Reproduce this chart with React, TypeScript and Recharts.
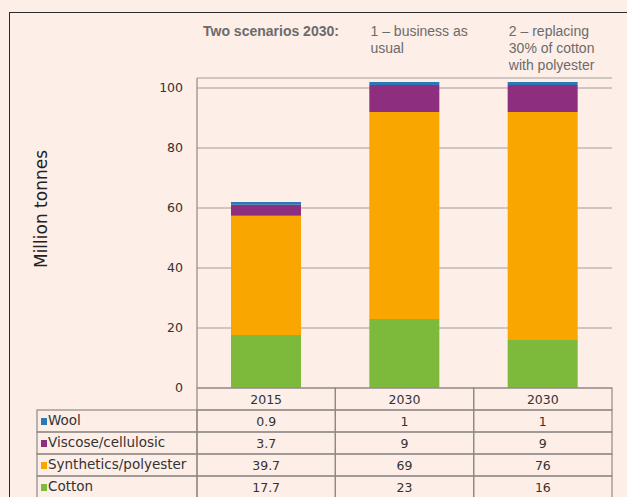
import { BarChart, Bar, XAxis, YAxis, CartesianGrid } from 'recharts'

const CATEGORIES = ['2015', '2030', '2030']
const SCENARIO_LINES = [
  ['Two scenarios 2030:'],
  ['1 – business as', 'usual'],
  ['2 – replacing', '30% of cotton', 'with polyester'],
]
const WOOL = [0.9, 1, 1]
const VISCOSE = [3.7, 9, 9]
const SYNTHETICS = [39.7, 69, 76]
const COTTON = [17.7, 23, 16]
const Y_TICKS = [0, 20, 40, 60, 80, 100]

// table order, top to bottom
const SERIES = [
  { key: 'wool', name: 'Wool', values: WOOL, color: '#2a79b6' },
  { key: 'viscose', name: 'Viscose/cellulosic', values: VISCOSE, color: '#8d2e7e' },
  { key: 'synthetics', name: 'Synthetics/polyester', values: SYNTHETICS, color: '#f9a600' },
  { key: 'cotton', name: 'Cotton', values: COTTON, color: '#7db93a' },
]

const data = CATEGORIES.map((name, i) => {
  const row: any = { name }
  SERIES.forEach(s => { row[s.key] = s.values[i] })
  return row
})

const W = 627
const H = 497
const LEFT = 197
const RIGHT = 15
const TOP = 78
const ROW_H = 22
const BOTTOM = ROW_H * 5 - 1
const BAND = (W - LEFT - RIGHT) / CATEGORIES.length
const BAR = 70
const LABEL_COL = 160
const LINE = '#8f8a88'
const GEO = '"DejaVu Sans", sans-serif'
const TEXT = '#333'

function TableColumn(props: any) {
  const { x, y, index } = props
  const left = x - BAND / 2
  return (
    <g>
      <rect x={left} y={y} width={BAND} height={ROW_H} fill="none" stroke={LINE} strokeWidth={1.2} />
      <text x={x} y={y + ROW_H / 2} textAnchor="middle" dominantBaseline="central" fontSize={12.5} fill={TEXT} fontFamily={GEO}>
        {CATEGORIES[index]}
      </text>
      {SERIES.map((s, r) => {
        const ry = y + ROW_H * (r + 1)
        return (
          <g key={s.key}>
            <rect x={left} y={ry} width={BAND} height={ROW_H} fill="none" stroke={LINE} strokeWidth={1.2} />
            <text x={x} y={ry + ROW_H / 2} textAnchor="middle" dominantBaseline="central" fontSize={12.5} fill={TEXT} fontFamily={GEO}>
              {String(s.values[index])}
            </text>
            {index === 0 && (
              <g>
                <rect x={left - LABEL_COL} y={ry} width={LABEL_COL} height={ROW_H} fill="none" stroke={LINE} strokeWidth={1.2} />
                <rect x={left - LABEL_COL + 4} y={ry + 8} width={6} height={7} fill={s.color} />
                <text x={left - LABEL_COL + 11} y={ry + ROW_H / 2 - 1} dominantBaseline="central" fontSize={13.5} fill={TEXT} fontFamily={GEO}>
                  {s.name}
                </text>
              </g>
            )}
          </g>
        )
      })}
    </g>
  )
}

function ScenarioTick(props: any) {
  const { x, y, index } = props
  const lines = SCENARIO_LINES[index]
  const tx = index === 0 ? x - BAND / 2 + 6 : x - BAR / 2 + 1
  return (
    <text x={tx} y={y} fontSize={14} fill="#6b6b6b" fontWeight={index === 0 ? 'bold' : 'normal'} fontFamily='"Liberation Sans", Arial, sans-serif'>
      {lines.map((l, k) => (
        <tspan key={k} x={tx} y={y - 42 + 17 * k}>{l}</tspan>
      ))}
    </text>
  )
}

function AxisTitle() {
  return (
    <text x={41} y={209} transform="rotate(-90 41 209)" textAnchor="middle" dominantBaseline="central" fontSize={17} fill="#222" fontFamily={GEO}>
      Million tonnes
    </text>
  )
}

export default function App() {
  return (
    <div style={{ position: 'absolute', left: 0, top: 0, width: W, height: H, background: '#fdeee7', overflow: 'hidden' }}>
      <div style={{ position: 'absolute', left: 9, top: 12, right: 0, bottom: 0, borderTop: '1.5px solid #2a2a2a', borderLeft: '1.5px solid #2a2a2a' }} />
      <div style={{ position: 'absolute', left: 0, top: 0 }}>
        <BarChart width={W} height={H} data={data} margin={{ top: 0, right: RIGHT, left: 0, bottom: 0 }} barSize={BAR}>
          <CartesianGrid vertical={false} stroke="#a39d9a" strokeWidth={1.2} />
          <XAxis dataKey="name" xAxisId="top" orientation="top" height={TOP} axisLine={false} tickLine={false} tickSize={0} tickMargin={0} tick={<ScenarioTick />} interval={0} />
          <XAxis dataKey="name" height={BOTTOM} axisLine={false} tickLine={false} tickSize={0} tickMargin={0} tick={<TableColumn />} interval={0} />
          <YAxis
            width={LEFT}
            domain={[0, 103.33]}
            ticks={Y_TICKS}
            allowDataOverflow
            axisLine={{ stroke: LINE, strokeWidth: 1.2 }}
            tickLine={false}
            tickSize={0}
            tickMargin={14}
            tick={{ fill: TEXT, fontSize: 12.5, fontFamily: GEO }}
            label={<AxisTitle />}
          />
          {[...SERIES].reverse().map(s => (
            <Bar key={s.key} dataKey={s.key} stackId="a" fill={s.color} isAnimationActive={false} />
          ))}
        </BarChart>
      </div>
    </div>
  )
}
